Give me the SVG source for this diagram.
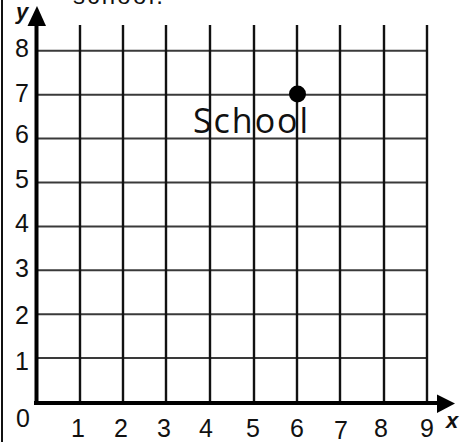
<svg xmlns="http://www.w3.org/2000/svg" width="469" height="442" viewBox="0 0 469 442">
<style>
.bg{fill:#ffffff}
.vg{stroke:#111;stroke-width:2.4;fill:none}
.hg{stroke:#3a3a3a;stroke-width:2;fill:none}
.ax{stroke:#000;stroke-width:4;fill:none}
.ah{fill:#000}
.num{font-family:"Liberation Sans",Arial,sans-serif;font-size:25px;fill:#111;text-anchor:middle}
.var{font-family:"Liberation Sans",Arial,sans-serif;font-size:22px;font-style:italic;font-weight:bold;fill:#111}
.lbl{font-family:"Open Sans","DejaVu Sans",sans-serif;font-size:34px;fill:#111}
</style>
<rect class="bg" x="0" y="0" width="469" height="442"/>
<line x1="2" y1="0" x2="2" y2="442" stroke="#111" stroke-width="2"/>
<text x="73" y="4" font-family="Liberation Sans, Arial, sans-serif" font-size="24" fill="#111" textLength="90">school.</text>
<g id="grid">
<line class="hg" x1="36" y1="358.1" x2="427" y2="358.1"/>
<line class="hg" x1="36" y1="314.2" x2="427" y2="314.2"/>
<line class="hg" x1="36" y1="270.3" x2="427" y2="270.3"/>
<line class="hg" x1="36" y1="226.4" x2="427" y2="226.4"/>
<line class="hg" x1="36" y1="182.5" x2="427" y2="182.5"/>
<line class="hg" x1="36" y1="138.6" x2="427" y2="138.6"/>
<line class="hg" x1="36" y1="94.7" x2="427" y2="94.7"/>
<line class="hg" x1="36" y1="50.8" x2="427" y2="50.8"/>
<line class="vg" x1="80" y1="25" x2="80" y2="402"/>
<line class="vg" x1="123" y1="25" x2="123" y2="402"/>
<line class="vg" x1="166" y1="25" x2="166" y2="402"/>
<line class="vg" x1="210" y1="25" x2="210" y2="402"/>
<line class="vg" x1="254" y1="25" x2="254" y2="402"/>
<line class="vg" x1="297" y1="25" x2="297" y2="402"/>
<line class="vg" x1="340" y1="25" x2="340" y2="402"/>
<line class="vg" x1="384" y1="25" x2="384" y2="402"/>
<line class="vg" x1="427" y1="25" x2="427" y2="402"/>
</g>
<g id="axes">
<line class="ax" x1="34" y1="403" x2="440" y2="403"/>
<polygon class="ah" points="455,403.5 437,394.5 437,413"/>
<line class="ax" x1="36.5" y1="405" x2="36.5" y2="22"/>
<polygon class="ah" points="37,6 27.5,26 46,26"/>
<text class="var" x="446" y="428">x</text>
<text class="var" x="16" y="19">y</text>
</g>
<g id="y-labels">
<text class="num" x="22" y="57">8</text>
<text class="num" x="22" y="102">7</text>
<text class="num" x="22" y="143">6</text>
<text class="num" x="22" y="188">5</text>
<text class="num" x="22" y="232">4</text>
<text class="num" x="22" y="277">3</text>
<text class="num" x="22" y="324">2</text>
<text class="num" x="22" y="370">1</text>
</g>
<g id="x-labels">
<text class="num" x="23" y="427">0</text>
<text class="num" x="78" y="437">1</text>
<text class="num" x="121" y="437">2</text>
<text class="num" x="164" y="437">3</text>
<text class="num" x="206" y="437">4</text>
<text class="num" x="253" y="437">5</text>
<text class="num" x="297" y="437">6</text>
<text class="num" x="341" y="438.5">7</text>
<text class="num" x="381" y="437">8</text>
<text class="num" x="427" y="437">9</text>
</g>
<g id="school">
<circle cx="297.5" cy="94" r="8.5" fill="#000"/>
<text class="lbl" x="193" y="133" textLength="115">School</text>
</g>
</svg>
